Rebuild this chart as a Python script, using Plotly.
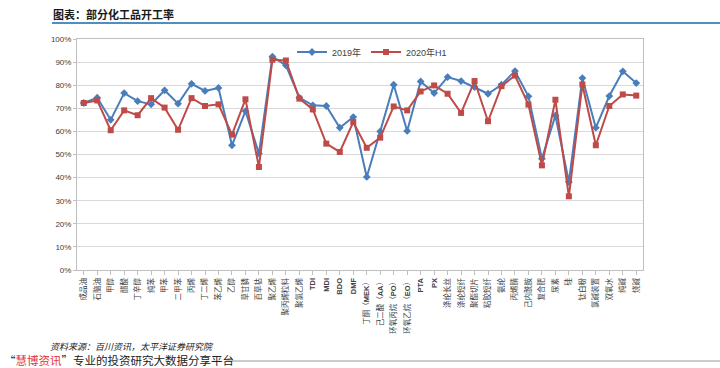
import plotly.graph_objects as go

categories = ["成品油", "石脑油", "甲醇", "醋酸", "丁辛醇", "纯苯", "甲苯", "二甲苯", "丙烯", "丁二烯",
              "苯乙烯", "乙醇", "草甘膦", "百草枯", "聚乙烯", "聚丙烯粒料", "聚氯乙烯", "TDI", "MDI", "BDO",
              "DMF", "丁酮（MEK）", "己二酸（AA）", "环氧丙烷（PO）", "环氧乙烷（EO）", "PTA", "PX",
              "涤纶长丝", "涤纶短纤", "聚酯切片", "粘胶短纤", "氨纶", "丙烯腈", "己内酰胺", "复合肥", "尿素",
              "硅", "钛白粉", "氯碱装置", "双氧水", "纯碱", "烧碱"]
tick_labels = ["成品油", "石脑油", "甲醇", "醋酸", "丁辛醇", "纯苯", "甲苯", "二甲苯", "丙烯", "丁二烯",
               "苯乙烯", "乙醇", "草甘膦", "百草枯", "聚乙烯", "聚丙烯粒料", "聚氯乙烯", "<b>TDI</b>", "<b>MDI</b>", "<b>BDO</b>",
               "<b>DMF</b>", "丁酮（<b>MEK</b>）", "己二酸（<b>AA</b>）", "环氧丙烷（<b>PO</b>）", "环氧乙烷（<b>EO</b>）", "<b>PTA</b>", "<b>PX</b>",
               "涤纶长丝", "涤纶短纤", "聚酯切片", "粘胶短纤", "氨纶", "丙烯腈", "己内酰胺", "复合肥", "尿素",
               "硅", "钛白粉", "氯碱装置", "双氧水", "纯碱", "烧碱"]
v2019 = [72.3, 74.6, 65.0, 76.6, 73.1, 71.7, 77.8, 72.0, 80.6, 77.5, 78.8, 54.0, 68.8, 50.4, 92.4, 88.6,
         74.6, 71.3, 71.0, 61.6, 66.2, 40.3, 60.0, 80.2, 60.2, 81.6, 76.6, 83.5, 81.8, 79.2, 76.3, 80.2,
         86.1, 75.2, 48.2, 66.9, 38.1, 83.1, 61.6, 75.3, 86.0, 80.9]
v2020h1 = [72.3, 73.4, 60.5, 69.1, 67.0, 74.4, 70.3, 60.7, 74.4, 71.0, 71.7, 58.6, 73.9, 44.6, 91.0, 90.7,
           74.2, 69.5, 54.7, 51.1, 64.0, 52.9, 57.3, 70.8, 69.1, 77.3, 79.9, 76.3, 68.0, 81.8, 64.4, 79.6,
           84.2, 71.6, 45.3, 73.7, 31.9, 80.3, 54.0, 71.0, 76.0, 75.5]
y_ticks = [0, 10, 20, 30, 40, 50, 60, 70, 80, 90, 100]

BLUE = "#4a7ebb"
RED = "#be4b48"
FONT = "Liberation Sans, Noto Sans CJK SC, sans-serif"

# plot area in pixels: x 77..643, y 39..270
PL, PR, PT, PB = 77, 643, 39, 270
def px(x):
    return (x - PL) / (PR - PL)
def py(y):
    return (PB - y) / (PB - PT)

xs = list(range(len(categories)))
fig = go.Figure()
fig.add_trace(go.Scatter(x=xs, y=[v / 100 for v in v2019], name="2019年", mode="lines+markers",
                         line=dict(color=BLUE, width=2),
                         marker=dict(symbol="diamond", size=6, color=BLUE)))
fig.add_trace(go.Scatter(x=xs, y=[v / 100 for v in v2020h1], name="2020年H1", mode="lines+markers",
                         line=dict(color=RED, width=2),
                         marker=dict(symbol="square", size=6, color=RED)))

fig.update_xaxes(range=[-0.5, len(categories) - 0.5], tickmode="array", tickvals=xs, ticktext=tick_labels,
                 tickangle=-90, tickfont=dict(size=7.5, color="#404040", family=FONT),
                 showgrid=False, showline=True, linecolor="#bfbfbf", linewidth=1, mirror=True,
                 ticks="outside", ticklen=4, tickcolor="#bfbfbf", tickson="boundaries", zeroline=False)
fig.update_yaxes(range=[0, 1], tickmode="array", tickvals=[t / 100 for t in y_ticks],
                 ticktext=[f"{t}%" for t in y_ticks], tickfont=dict(size=8, color="#404040", family=FONT),
                 showgrid=True, gridcolor="#d9d9d9", gridwidth=1, showline=True, linecolor="#bfbfbf",
                 linewidth=1, mirror=True, ticks="outside", ticklen=3, tickcolor="#bfbfbf", zeroline=False)

fig.update_layout(
    width=720, height=368,
    margin=dict(l=PL, r=720 - PR, t=PT, b=368 - PB),
    paper_bgcolor="white", plot_bgcolor="white",
    font=dict(family=FONT),
    legend=dict(orientation="h", x=px(292), y=py(52), xanchor="left", yanchor="middle",
                bgcolor="rgba(0,0,0,0)", font=dict(size=9, color="#404040", family=FONT),
                itemwidth=30, tracegroupgap=0),
    showlegend=True,
)

fig.add_annotation(xref="paper", yref="paper", x=px(51), y=py(14), xanchor="left",
                   yanchor="middle", showarrow=False, text="<b>图表：部分化工品开工率</b>",
                   font=dict(size=11, color="#1a1a1a", family="Noto Sans CJK SC"))
fig.add_shape(type="line", xref="paper", yref="paper", x0=px(52), x1=px(720),
              y0=py(23), y1=py(23), line=dict(color="#4f8fc0", width=2))
fig.add_annotation(xref="paper", yref="paper", x=px(49), y=py(346), xanchor="left",
                   yanchor="middle", showarrow=False, borderpad=0,
                   text="<i>资料来源：百川资讯，太平洋证券研究院</i>",
                   font=dict(size=9, color="#222222", family="Noto Sans CJK SC"))
fig.add_annotation(xref="paper", yref="paper", x=px(3), y=py(359.5), xanchor="left",
                   yanchor="middle", showarrow=False, borderpad=0,
                   text="“<span style='color:#e0333c'>慧博资讯</span>”专业的投资研究大数据分享平台",
                   font=dict(size=11.5, color="#222222", family="Noto Sans CJK SC"))
fig.add_shape(type="line", xref="paper", yref="paper", x0=px(226), x1=px(720),
              y0=py(361), y1=py(361), line=dict(color="#999999", width=1))

fig.write_html("out.html", post_script="document.body.style.margin='0';",
               config={"displayModeBar": False})
